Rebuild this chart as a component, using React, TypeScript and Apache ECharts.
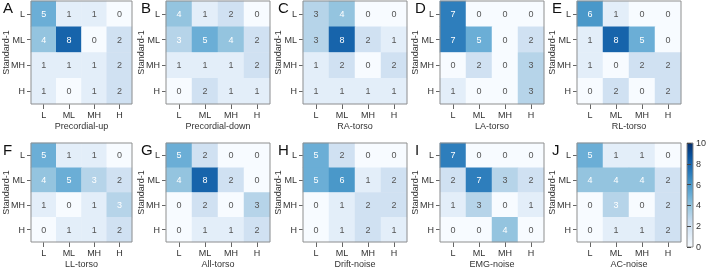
import React, { useEffect, useRef } from "react";
import * as echarts from "echarts";

const levels = ["L", "ML", "MH", "H"];
const panelLetters = ["A", "B", "C", "D", "E", "F", "G", "H", "I", "J"];
const panelTitles = [
  "Precordial-up", "Precordial-down", "RA-torso", "LA-torso", "RL-torso",
  "LL-torso", "All-torso", "Drift-noise", "EMG-noise", "AC-noise",
];
const yAxisName = "Standard-1";

// rows: Standard-1 = L, ML, MH, H ; columns: L, ML, MH, H
const precordialUp = [[5, 1, 1, 0], [4, 8, 0, 2], [1, 1, 1, 2], [1, 0, 1, 2]];
const precordialDown = [[4, 1, 2, 0], [3, 5, 4, 2], [1, 1, 1, 2], [0, 2, 1, 1]];
const raTorso = [[3, 4, 0, 0], [3, 8, 2, 1], [1, 2, 0, 2], [1, 1, 1, 1]];
const laTorso = [[7, 0, 0, 0], [7, 5, 0, 2], [0, 2, 0, 3], [1, 0, 0, 3]];
const rlTorso = [[6, 1, 0, 0], [1, 8, 5, 0], [1, 0, 2, 2], [0, 2, 0, 2]];
const llTorso = [[5, 1, 1, 0], [4, 5, 3, 2], [1, 0, 1, 3], [0, 1, 1, 2]];
const allTorso = [[5, 2, 0, 0], [4, 8, 2, 0], [0, 2, 0, 3], [0, 1, 1, 2]];
const driftNoise = [[5, 2, 0, 0], [5, 6, 1, 2], [0, 1, 2, 2], [0, 1, 2, 1]];
const emgNoise = [[7, 0, 0, 0], [2, 7, 3, 2], [1, 3, 0, 1], [0, 0, 4, 0]];
const acNoise = [[5, 1, 1, 0], [4, 4, 4, 2], [0, 3, 0, 2], [0, 1, 1, 2]];

const matrices = [
  precordialUp, precordialDown, raTorso, laTorso, rlTorso,
  llTorso, allTorso, driftNoise, emgNoise, acNoise,
];

const colorMin = 0;
const colorMax = 10;
const colorInterval = 2;

const blues = ["#f7fbff", "#deebf7", "#c6dbef", "#9ecae1", "#6baed6", "#4292c6", "#2171b5", "#08519c", "#08306b"];

export default function App() {
  const ref = useRef<HTMLDivElement>(null);
  useEffect(() => {
    if (!ref.current) return;
    const chart = echarts.init(ref.current, undefined, { renderer: "svg" });
    const lefts = [28, 166, 303, 440, 577];
    const tops = [1, 143];
    const W = 104;
    const H = 103;
    const grids: any[] = [];
    const xAxes: any[] = [];
    const yAxes: any[] = [];
    const series: any[] = [];
    const graphics: any[] = [];
    const textColor = "#333";
    matrices.forEach((m, i) => {
      const row = Math.floor(i / 5);
      const col = i % 5;
      const left = lefts[col];
      const top = tops[row];
      grids.push({
        left, top, width: W, height: H, show: true,
        borderColor: "#8f8f8f", borderWidth: 1, backgroundColor: "transparent", z: 10,
      });
      xAxes.push({
        gridIndex: i, type: "category", data: levels,
        axisLine: { show: false },
        axisTick: { show: true, alignWithLabel: true, length: 5, lineStyle: { color: "#666" } },
        axisLabel: { fontSize: 9, color: textColor, margin: 6 },
        splitLine: { show: false },
        name: panelTitles[i], nameLocation: "middle", nameGap: 17,
        nameTextStyle: { fontSize: 9, color: textColor },
      });
      yAxes.push({
        gridIndex: i, type: "category", data: levels, inverse: true,
        axisLine: { show: false },
        axisTick: { show: true, alignWithLabel: true, length: 4, lineStyle: { color: "#666" } },
        axisLabel: { fontSize: 9, color: textColor, margin: 6 },
        splitLine: { show: false },
        name: yAxisName, nameLocation: "middle", nameGap: 21, nameRotate: 90,
        nameMoveOverlap: false,
        nameTextStyle: { fontSize: 9, color: textColor },
      });
      const mx = Math.max(...m.flat());
      const data: any[] = [];
      m.forEach((r, ri) => r.forEach((v, ci) => {
        data.push({ value: [ci, ri, v], label: { color: v / mx >= 0.45 ? "#ffffff" : "#555" } });
      }));
      series.push({
        type: "heatmap", xAxisIndex: i, yAxisIndex: i, data,
        label: { show: true, fontSize: 9, formatter: (p: any) => String(p.value[2]) },
        emphasis: { disabled: true },
      });
      graphics.push({
        type: "text", left: left - 25, top: top - 1,
        style: { text: panelLetters[i], fontSize: 15, fill: "#111", fontFamily: "Liberation Sans, Arial, sans-serif" },
      });
    });
    // colorbar
    const cbLeft = 687, cbTop = 143, cbW = 6, cbH = 104;
    grids.push({ left: cbLeft, top: cbTop, width: cbW, height: cbH, show: false });
    xAxes.push({ gridIndex: 10, type: "value", show: false, min: 0, max: 1 });
    yAxes.push({
      gridIndex: 10, type: "value", min: colorMin, max: colorMax, interval: colorInterval, position: "right",
      axisLine: { show: false }, splitLine: { show: false },
      axisTick: { show: true, length: 4, lineStyle: { color: "#444" } },
      axisLabel: { fontSize: 9, color: textColor, margin: 3 },
    });
    const stops = blues.map((c, k) => ({ offset: k / (blues.length - 1), color: blues[blues.length - 1 - k] }));
    graphics.push({
      type: "rect", shape: { x: cbLeft, y: cbTop, width: cbW, height: cbH },
      style: { fill: new echarts.graphic.LinearGradient(0, 0, 0, 1, stops), stroke: "#888", lineWidth: 1 },
    });
    chart.setOption({
      animation: false,
      textStyle: { fontFamily: "Liberation Sans, Arial, sans-serif" },
      grid: grids, xAxis: xAxes, yAxis: yAxes, series,
      visualMap: {
        type: "continuous", min: colorMin, max: colorMax, show: false,
        seriesIndex: series.map((_, k) => k), inRange: { color: blues },
      },
      graphic: graphics,
    });
    return () => chart.dispose();
  }, []);
  return <div ref={ref} style={{ position: "fixed", left: 0, top: 0, width: 709, height: 269 }} />;
}
